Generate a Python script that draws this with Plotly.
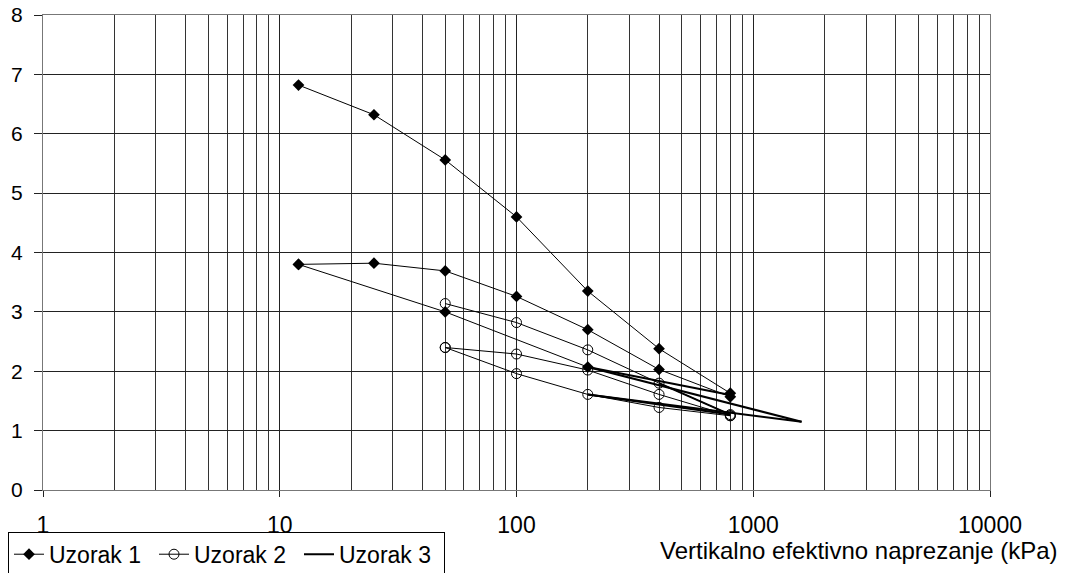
import plotly.graph_objects as go

# Uzorak 1 (filled diamonds) - separate branches separated by None
u1_x = [12, 25, 50, 100, 200, 400, 800, None,
        12, 25, 50, 100, 200, 400, 800, None,
        12, 50, 200]
u1_y = [6.82, 6.32, 5.56, 4.60, 3.35, 2.38, 1.63, None,
        3.80, 3.82, 3.69, 3.26, 2.70, 2.03, 1.57, None,
        3.80, 3.00, 2.07]

# Uzorak 2 (open circles)
u2_x = [50, 100, 200, 400, 800, None,
        50, 100, 200, 400, 800, None,
        50, 100, 200, 400, 800]
u2_y = [3.14, 2.82, 2.36, 1.80, 1.27, None,
        2.40, 2.29, 2.02, 1.61, 1.25, None,
        2.40, 1.96, 1.61, 1.39, 1.25]

# Uzorak 3 (line only)
u3_x = [200, 800, None, 200, 1600, None, 200, 800, None, 200, 1600, None, 400, 800]
u3_y = [2.07, 1.60, None, 2.07, 1.15, None, 1.61, 1.27, None, 1.61, 1.15, None, 1.80, 1.27]

decades = [1, 10, 100, 1000, 10000]
decade_labels = ["1", "10", "100", "1000", "10000"]
minor_vals = [m * d for d in [1, 10, 100, 1000] for m in range(2, 10)]
y_ticks = [0, 1, 2, 3, 4, 5, 6, 7, 8]

fig = go.Figure()
fig.add_trace(go.Scatter(x=u1_x, y=u1_y, mode="lines+markers", name="Uzorak 1",
                         line=dict(color="black", width=1),
                         marker=dict(symbol="diamond", size=9, color="black")))
fig.add_trace(go.Scatter(x=u2_x, y=u2_y, mode="lines+markers", name="Uzorak 2",
                         line=dict(color="black", width=1),
                         marker=dict(symbol="circle-open", size=10, color="black",
                                     line=dict(width=1, color="black"))))
fig.add_trace(go.Scatter(x=u3_x, y=u3_y, mode="lines", name="Uzorak 3",
                         line=dict(color="black", width=2)))

fig.update_layout(
    width=1058, height=565,
    margin=dict(l=35, r=76, t=7, b=83, autoexpand=False),
    paper_bgcolor="white", plot_bgcolor="white",
    font=dict(family="Liberation Sans, Arial, sans-serif", size=22, color="black"),
    showlegend=True,
    legend=dict(orientation="h", xref="container", yref="container",
                x=0.0, y=0.073, xanchor="left", yanchor="top",
                bordercolor="black", borderwidth=1, bgcolor="white",
                font=dict(size=23), itemwidth=30, tracegroupgap=0,
                entrywidth=100, entrywidthmode="pixels"),
    xaxis=dict(type="log", range=[0, 4], tickmode="array", tickvals=decades,
               ticktext=decade_labels, showgrid=True, gridcolor="#222", gridwidth=1,
               ticks="outside", ticklen=6, tickcolor="#222", ticklabelstandoff=8,
               tickfont=dict(size=23), ticklabeloverflow="allow",
               showline=True, linecolor="#777", linewidth=1, mirror=True,
               zeroline=False, automargin=False,
               minor=dict(tickmode="array", tickvals=minor_vals, showgrid=True,
                          gridcolor="#333", gridwidth=1, ticks="")),
    yaxis=dict(range=[0, 8], tickmode="array", tickvals=y_ticks,
               showgrid=True, gridcolor="#222", gridwidth=1,
               ticks="outside", ticklen=8, tickcolor="#222", ticklabelstandoff=7,
               tickfont=dict(size=21), ticklabeloverflow="allow",
               showline=True, linecolor="#777", linewidth=1, mirror=True,
               zeroline=False, automargin=False),
)

fig.add_annotation(text="Vertikalno efektivno naprezanje (kPa)", xref="paper", yref="paper",
                   x=1.074, y=-0.128, xanchor="right", yanchor="middle", showarrow=False,
                   font=dict(size=24))

fig.write_html("out.html")
